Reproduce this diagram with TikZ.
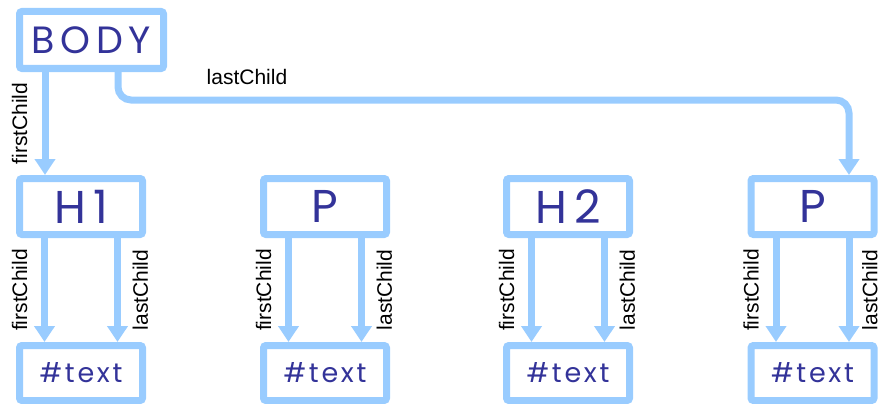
\documentclass[tikz,border=0pt]{standalone}
\usepackage{fontspec}
\setmainfont{Liberation Sans}
\newfontfamily\boxfont[LetterSpace=15]{Poppins}
\newfontfamily\leaffont[LetterSpace=10]{Poppins}
\usetikzlibrary{arrows.meta}
\definecolor{edge}{HTML}{99CCFF}
\definecolor{ink}{HTML}{333399}

\begin{document}
\begin{tikzpicture}[x=1pt,y=-1pt,
  domnode/.style={draw=edge, line width=7pt, rounded corners=2.5pt, fill=white,
    inner sep=0pt, text=ink, minimum width=123pt, minimum height=56pt,
    font=\boxfont\fontsize{46}{50}\selectfont},
  textnode/.style={domnode, minimum height=55pt,
    font=\leaffont\fontsize{27}{30}\selectfont},
  link/.style={draw=edge, line width=7pt,
    -{Triangle[width=20pt,length=16pt]}},
  lbl/.style={inner sep=0pt, font=\fontsize{21}{24}\selectfont, rotate=90},
  firstlbl/.style={lbl, anchor=south},
  lastlbl/.style={lbl, anchor=north}]
  \useasboundingbox (0,0) rectangle (883,404);

  % root element
  \node[domnode, minimum width=144pt, minimum height=57pt,
        font=\boxfont\fontsize{38}{42}\selectfont] (body) at (91.5,40) {BODY};

  % children of BODY
  \node[domnode] (h1) at (81,206.5)  {H1};
  \node[domnode] (pa) at (325,206.5) {P};
  \node[domnode] (h2) at (568,206.5) {H2};
  \node[domnode] (pb) at (812.5,206.5) {P};

  % text nodes
  \node[textnode] (t1) at (81,373)    {\#text};
  \node[textnode] (t2) at (325,373)   {\#text};
  \node[textnode] (t3) at (568,373)   {\#text};
  \node[textnode] (t4) at (812.5,373) {\#text};

  % BODY links
  \draw[link] ([xshift=-36pt]h1.north |- body.south) -- ([xshift=-36pt]h1.north)
    coordinate[pos=0.5] (bf);
  \node[firstlbl] at ([xshift=-17.5pt]bf) {firstChild};
  \draw[link, rounded corners=13pt] ([xshift=26.5pt]body.south) -- ++(0,28)
    -| ([xshift=36.5pt]pb.north);
  \node[inner sep=0pt, font=\fontsize{21}{24}\selectfont] (lc) at (247,77) {lastChild};

  % element-to-text links
  \foreach \e/\t/\gap in {h1/t1/15, pa/t2/15, h2/t3/15, pb/t4/13}{
    \draw[link] ([xshift=-36.5pt]\e.south) -- ([xshift=-36.5pt]\t.north)
      coordinate[pos=0.5] (m);
    \node[firstlbl] at ([xshift=-17pt]m) {firstChild};
    \draw[link] ([xshift=36.5pt]\e.south) -- ([xshift=36.5pt]\t.north)
      coordinate[pos=0.5] (n);
    \node[lastlbl] at ([xshift=\gap pt]n) {lastChild};
  }
\end{tikzpicture}
\end{document}
